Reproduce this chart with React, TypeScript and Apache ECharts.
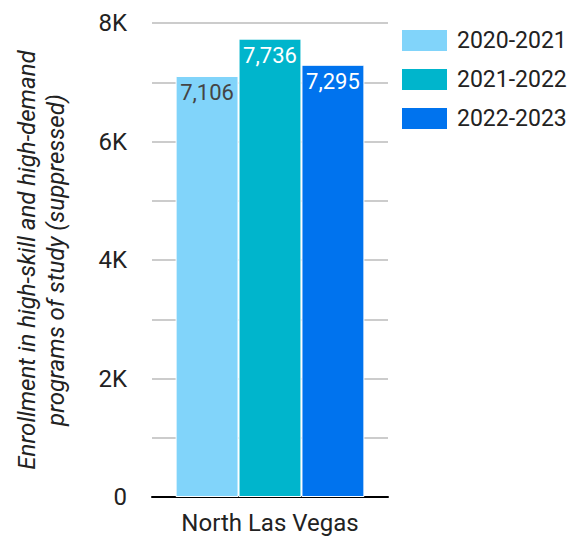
import React, { useEffect, useRef } from "react";
import * as echarts from "echarts";

const categories = ["North Las Vegas"];
const seriesNames = ["2020-2021", "2021-2022", "2022-2023"];
const values2020 = [7106];
const values2021 = [7736];
const values2022 = [7295];
const colors = ["#81d4fa", "#00b5cc", "#0073ee"];
const labelColors = ["#444444", "#ffffff", "#ffffff"];
const yTickLabels: Record<number, string> = { 0: "0", 2000: "2K", 4000: "4K", 6000: "6K", 8000: "8K" };

export default function App() {
  const ref = useRef<HTMLDivElement>(null);
  useEffect(() => {
    if (!ref.current) return;
    const chart = echarts.init(ref.current, null, { renderer: "svg" });
    const data = [values2020, values2021, values2022];
    chart.setOption({
      animation: false,
      textStyle: { fontFamily: "Roboto" },
      grid: { left: 152, right: 182, top: 23, bottom: 41, containLabel: false },
      legend: {
        orient: "vertical",
        left: 400,
        top: 28,
        padding: 0,
        itemWidth: 47,
        itemHeight: 23,
        itemGap: 14,
        icon: "rect",
        textStyle: { fontSize: 23, color: "#222", fontFamily: "Roboto", lineHeight: 23, padding: [0, 0, 0, 4] },
        data: seriesNames,
      },
      xAxis: {
        type: "category",
        data: categories,
        axisLine: { show: true, lineStyle: { color: "#000", width: 2 } },
        axisTick: { show: false },
        axisLabel: { fontSize: 24, color: "#222", margin: 14, fontFamily: "Roboto" },
      },
      yAxis: {
        type: "value",
        min: 0,
        max: 8000,
        interval: 1000,
        name: "Enrollment in high-skill and high-demand\nprograms of study (suppressed)",
        nameLocation: "middle",
        nameGap: 82,
        nameTextStyle: { fontSize: 24, fontStyle: "italic", color: "#222", fontFamily: "Roboto", lineHeight: 29 },
        axisLine: { show: false },
        axisTick: { show: false },
        axisLabel: {
          fontSize: 24,
          color: "#222",
          margin: 25,
          fontFamily: "Roboto",
          formatter: (v: number) => (yTickLabels[v] !== undefined ? yTickLabels[v] : ""),
        },
        splitLine: { lineStyle: { color: "#cccccc", width: 2 } },
      },
      series: seriesNames.map((name, i) => ({
        name,
        type: "bar",
        data: data[i],
        barGap: "0%",
        barCategoryGap: "20%",
        itemStyle: { color: colors[i], borderColor: "#ffffff", borderWidth: 1 },
        label: {
          show: true,
          position: "insideTop",
          distance: 6,
          fontSize: 22,
          color: labelColors[i],
          fontFamily: "Roboto",
          formatter: (p: any) => p.value.toLocaleString("en-US"),
        },
      })),
    });
    return () => chart.dispose();
  }, []);
  return <div ref={ref} style={{ width: 570, height: 538, position: "absolute", left: 0, top: 0 }} />;
}
